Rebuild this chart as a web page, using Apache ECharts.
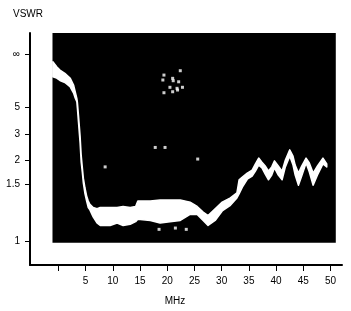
<!DOCTYPE html>
<html><head><meta charset="utf-8">
<script src="https://cdn.jsdelivr.net/npm/echarts@6/dist/echarts.min.js"></script>
<style>html,body{margin:0;padding:0;background:#fff}#c{width:351px;height:311px}</style>
</head><body><div id="c"></div>
<script>
const freqMHz = [-1.0,-0.3,0.3,1.2,2.2,2.8,3.1,3.4,3.5,3.7,4.0,4.2,4.4,4.6,4.9,5.2,5.5,5.8,6.4,7.1,7.7,9.5,10.8,11.9,13.2,14.2,14.6,16.9,18.7,20.5,22.4,24.2,25.5,26.6,27.5,28.8,30.1,31.6,32.8,33.2,33.8,34.7,35.6,36.2,36.8,37.4,38.0,38.6,39.2,39.7,40.4,41.1,41.7,42.5,43.1,43.5,44.1,44.7,45.5,46.1,46.8,47.6,48.6,49.3];
const vswrUpper = [40.8,24.3,19.1,15.7,12.25,9.39,7.54,6.27,5.71,4.28,2.91,2.15,1.84,1.61,1.46,1.38,1.33,1.30,1.27,1.26,1.27,1.27,1.27,1.28,1.27,1.28,1.33,1.33,1.34,1.34,1.34,1.32,1.28,1.23,1.20,1.26,1.32,1.36,1.41,1.58,1.63,1.71,1.77,1.91,2.06,1.95,1.86,1.75,1.84,1.98,1.86,1.75,2.00,2.33,2.12,1.88,1.71,1.86,2.06,1.93,1.71,1.86,2.06,1.91];
const vswrLower = [13.2,12.4,11.16,10.3,8.76,7.26,6.32,5.75,4.96,3.73,2.60,1.95,1.73,1.52,1.40,1.33,1.27,1.25,1.19,1.14,1.12,1.12,1.14,1.12,1.13,1.15,1.17,1.16,1.14,1.15,1.16,1.21,1.21,1.16,1.12,1.16,1.24,1.29,1.36,1.40,1.47,1.59,1.65,1.75,1.88,1.82,1.69,1.58,1.67,1.82,1.67,1.58,1.84,2.12,1.88,1.67,1.49,1.65,1.93,1.73,1.49,1.67,1.91,1.84];
// stray specks on the screen
const noiseFreq = [19.4,21.0,21.1,22.4,22.1,20.5,21.8,21.9,22.8,19.4,21.0,19.2,17.8,19.6,25.6,8.6,18.5,21.5,23.5];
const noiseVswr = [14.3,12.25,11.07,18.3,10.6,8.68,8.39,7.95,8.68,7.32,7.54,11.4,2.42,2.42,2.03,1.84,1.09,1.10,1.09];
// axis ticks
const xTickValues = [0,5,10,15,20,25,30,35,40,45,50];
const xLabelValues = [5,10,15,20,25,30,35,40,45,50];
const vswrTicks = [1,1.5,2,3,5,Infinity];
const vswrTickLabels = ['1','1.5','2','3','5','\u221E'];
// VSWR scale of the screen graticule (position of each tick, in % of scale)
const vswrScale = [0,30.6,43.5,57.2,71.4,100];

function gamma(v){ return v===Infinity ? 1 : (v-1)/(v+1); }
const tickGamma = vswrTicks.map(gamma);
function toScale(v){
  const g = gamma(v);
  for (let i=1;i<tickGamma.length;i++){
    if (g <= tickGamma[i] || i===tickGamma.length-1){
      const t = (g - tickGamma[i-1])/(tickGamma[i]-tickGamma[i-1]);
      return vswrScale[i-1] + t*(vswrScale[i]-vswrScale[i-1]);
    }
  }
}
const bandData = freqMHz.map((f,i)=>[f, toScale(vswrUpper[i]), toScale(vswrLower[i])]);
const noiseData = noiseFreq.map((f,i)=>[f, toScale(noiseVswr[i])]);
const screenBottom = -0.5;

const chart = echarts.init(document.getElementById('c'), null, {renderer:'canvas'});
const font = 'Liberation Sans, Arial, sans-serif';
chart.setOption({
  animation:false,
  backgroundColor:'#fff',
  textStyle:{fontFamily:font},
  grid:{left:30,right:9,top:33,bottom:46},
  xAxis:{
    type:'value', min:-5.2, max:52.1,
    axisLine:{show:true,onZero:false,lineStyle:{color:'#000',width:2}},
    axisTick:{show:true,length:6,customValues:xTickValues,lineStyle:{color:'#000',width:1}},
    axisLabel:{customValues:xLabelValues,margin:11,color:'#000',fontSize:10,fontFamily:font},
    splitLine:{show:false}
  },
  yAxis:{
    type:'value', min:-12.4, max:111.2,
    axisLine:{show:true,onZero:false,lineStyle:{color:'#000',width:2}},
    axisTick:{show:true,length:5,customValues:vswrScale,lineStyle:{color:'#000',width:1}},
    axisLabel:{customValues:vswrScale,margin:10,color:'#000',fontSize:10,fontFamily:font,
      formatter:function(v){ for(let i=0;i<vswrScale.length;i++){ if(Math.abs(vswrScale[i]-v)<0.01) return vswrTickLabels[i]; } return ''; }},
    splitLine:{show:false}
  },
  graphic:[
    {type:'text',left:13,top:9,style:{text:'VSWR',fill:'#000',font:'10px '+font}},
    {type:'text',x:175,y:301,style:{text:'MHz',fill:'#000',font:'10px '+font,align:'center',verticalAlign:'middle'}}
  ],
  series:[
    {type:'line',data:[],z:1,silent:true,
     markArea:{silent:true,itemStyle:{color:'#000',opacity:1},data:[[{xAxis:-1.07,yAxis:screenBottom},{xAxis:50.96,yAxis:111.2}]]}},
    {type:'custom',data:bandData,z:3,silent:true,
     renderItem:function(params, api){
       if (params.dataIndex !== 0) return null;
       const pts = [];
       for (let i=0;i<bandData.length;i++) pts.push(api.coord([bandData[i][0], bandData[i][1]]));
       for (let i=bandData.length-1;i>=0;i--) pts.push(api.coord([bandData[i][0], bandData[i][2]]));
       return {type:'polygon',shape:{points:pts},style:{fill:'#fff',stroke:'#fff',lineWidth:1.5,lineJoin:'round'}};
     }},
    {type:'scatter',data:noiseData,symbol:'rect',symbolSize:3,z:5,itemStyle:{color:'#fff'}}
  ]
});
</script></body></html>
